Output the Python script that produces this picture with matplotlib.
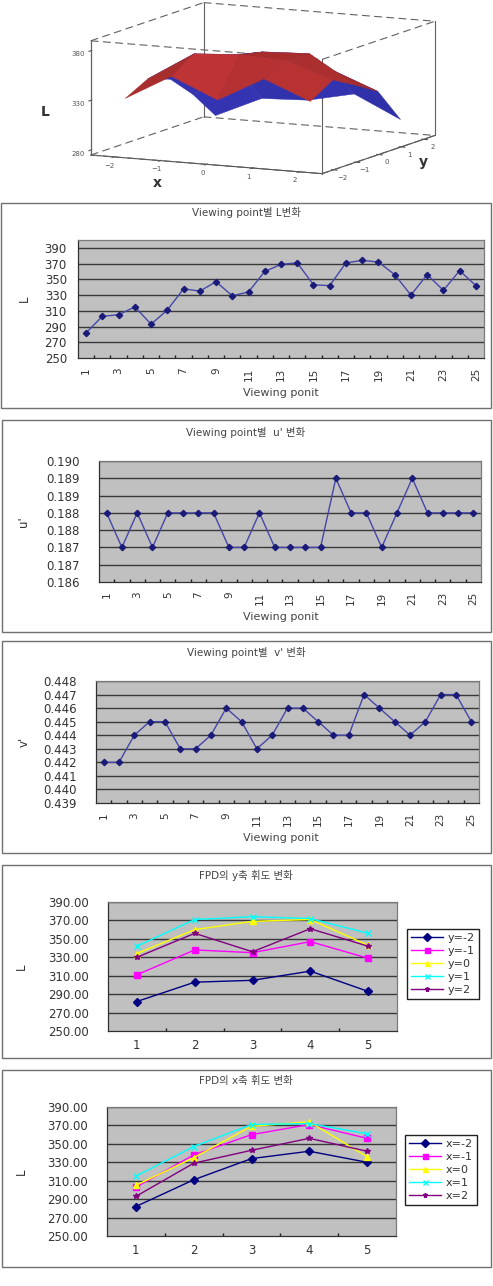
import itertools
import numpy as np
import matplotlib
matplotlib.use('Agg')
import matplotlib.pyplot as plt
from matplotlib.patches import Rectangle
from matplotlib.colors import to_rgba

plt.rcParams['font.family'] = ['DejaVu Sans', 'Noto Sans CJK KR']

# viewing points 1..25, row-major: y=-2..2 rows, x=-2..2 columns
points = np.arange(1, 26)
L_vals = [282, 303, 305, 315, 293,
          311, 338, 335, 347, 329,
          334, 360, 369, 371, 343,
          342, 371, 374, 372, 356,
          330, 356, 336, 361, 342]
u_vals = [0.188, 0.187, 0.188, 0.187, 0.188, 0.188, 0.188, 0.188, 0.187, 0.187,
          0.188, 0.187, 0.187, 0.187, 0.187, 0.189, 0.188, 0.188, 0.187, 0.188,
          0.189, 0.188, 0.188, 0.188, 0.188]
v_vals = [0.442, 0.442, 0.444, 0.445, 0.445, 0.443, 0.443, 0.444, 0.446, 0.445,
          0.443, 0.444, 0.446, 0.446, 0.445, 0.444, 0.444, 0.447, 0.446, 0.445,
          0.444, 0.445, 0.447, 0.447, 0.445]
grid_pos = [-2, -1, 0, 1, 2]
categories = [1, 2, 3, 4, 5]
y_names = ['y=-2', 'y=-1', 'y=0', 'y=1', 'y=2']
x_names = ['x=-2', 'x=-1', 'x=0', 'x=1', 'x=2']

L_ticks = list(range(250, 391, 20))
u_ticks = [0.1860, 0.1865, 0.1870, 0.1875, 0.1880, 0.1885, 0.1890, 0.1895]
u_ticklabels = ['0.186', '0.187', '0.187', '0.188', '0.188', '0.189', '0.189', '0.190']
v_ticks = [0.439, 0.440, 0.441, 0.442, 0.443, 0.444, 0.445, 0.446, 0.447, 0.448]

series_colors = ['#000080', '#FF00FF', '#FFFF00', '#00FFFF', '#800080']
series_markers = ['D', 's', '^', 'x', '*']

W, H = 493, 1286
fig = plt.figure(figsize=(W / 100, H / 100), dpi=100)


def frac(x0, y0, x1, y1):
    return [x0 / W, 1 - y1 / H, (x1 - x0) / W, (y1 - y0) / H]


def chart_frame(x0, y0, x1, y1):
    fig.add_artist(Rectangle((x0 / W, 1 - y1 / H), (x1 - x0) / W, (y1 - y0) / H,
                             transform=fig.transFigure, fill=False,
                             edgecolor='#707070', lw=1.0))


def fig_text(x, y, s, **kw):
    fig.text(x / W, 1 - y / H, s, ha='center', va='center', **kw)


def plot_area(ax, ylim, yticks, ylabels, ypad):
    ax.set_facecolor('#C0C0C0')
    ax.set_ylim(*ylim)
    ax.set_yticks(yticks)
    ax.set_yticklabels(ylabels)
    for t in yticks[1:]:
        ax.axhline(t, color='#383838', lw=1.0, zorder=0.5)
    for s in ax.spines.values():
        s.set_color('#7a7a7a')
        s.set_linewidth(0.9)
    ax.spines['left'].set_color('#303030')
    ax.spines['bottom'].set_color('#303030')
    ax.tick_params(axis='y', length=0, labelsize=8.5, pad=ypad, labelcolor='#333333')


def viewing_chart(box, area, title, title_y, values, ylim, yticks, ylabels,
                  ylab, xlab_y, ypad):
    chart_frame(*box)
    ax = fig.add_axes(frac(*area))
    plot_area(ax, ylim, yticks, ylabels, ypad)
    ax.plot(points, values, color='#4646A8', lw=1.0, marker='D', ms=3.2,
            mfc='#1a1a78', mec='#1a1a78', zorder=3)
    ax.set_xlim(0.5, 25.5)
    ax.set_xticks(points[::2])
    ax.set_xticklabels([str(p) for p in points[::2]], rotation=90)
    ax.set_xticks(np.arange(1.5, 25, 1), minor=True)
    ax.tick_params(axis='x', which='major', length=0, labelsize=7.5, pad=7,
                   labelcolor='#333333')
    ax.tick_params(axis='x', which='minor', direction='in', length=2.5,
                   color='#202020', width=1.0)
    fig_text(246, title_y, title, fontsize=7.5, color='#444444')
    fig_text(281, xlab_y, 'Viewing ponit', fontsize=8, color='#444444')
    fig_text(24, (area[1] + area[3]) / 2, ylab, fontsize=8.5, rotation=90,
             color='#333333')
    return ax


def grid_chart(box, area, title, title_y, series, names, legend_xy):
    chart_frame(*box)
    ax = fig.add_axes(frac(*area))
    plot_area(ax, (250, 390), L_ticks, ['%.2f' % t for t in L_ticks], 14)
    for vals, name, c, m in zip(series, names, series_colors, series_markers):
        ax.plot(categories, vals, color=c, lw=1.0, marker=m, ms=4, mfc=c, mec=c,
                label=name, zorder=3)
    ax.set_xlim(0.5, 5.5)
    ax.set_xticks(categories)
    ax.set_xticks(np.arange(1.5, 5, 1), minor=True)
    ax.tick_params(axis='x', which='major', length=0, labelsize=8.5, pad=6,
                   labelcolor='#333333')
    ax.tick_params(axis='x', which='minor', direction='in', length=2.5,
                   color='#202020', width=1.0)
    fig_text(246, title_y, title, fontsize=7.5, color='#444444')
    fig_text(21, (area[1] + area[3]) / 2, 'L', fontsize=8.5, rotation=90,
             color='#333333')
    leg = ax.legend(loc='upper left', bbox_to_anchor=(legend_xy[0] / W, 1 - legend_xy[1] / H),
                    bbox_transform=fig.transFigure, borderaxespad=0, fontsize=8,
                    fancybox=False, edgecolor='#202020', framealpha=1,
                    handlelength=2.9, handletextpad=0.4, labelspacing=0.28,
                    borderpad=0.35, markerscale=0.9)
    leg.get_frame().set_linewidth(1.0)
    for t in leg.get_texts():
        t.set_color('#333333')
    return ax


# ---- 3D surface ----
Lg = np.array(L_vals).reshape(5, 5)
# in the 3D view point 1 sits at the back-left corner
Ls = Lg[::-1]
Xg, Yg = np.meshgrid(grid_pos, grid_pos)
elev, azim = 9.5, -64
xylim = (-2.5, 2.5)
zlim = (275, 390)
aspect = (1, 1, 0.45)

# 3D axes are always square: make the square big enough to hold the whole box
ax3 = fig.add_axes(frac(78, -87, 438, 273), projection='3d')
ax3.patch.set_visible(False)
ax3.set_proj_type('ortho')
ax3.view_init(elev=elev, azim=azim)
ax3.set_box_aspect(aspect, zoom=1.03)
ax3.set_xlim(*xylim)
ax3.set_ylim(*xylim)
ax3.set_zlim(*zlim)

# two-sided colouring: red when the top side faces the viewer, blue otherwise
e, a = np.radians(elev), np.radians(azim)
view = np.array([np.cos(e) * np.cos(a), np.cos(e) * np.sin(a), np.sin(e)])
span = xylim[1] - xylim[0]
sx, sy, sz = aspect[0] / span, aspect[1] / span, aspect[2] / (zlim[1] - zlim[0])
fc = np.zeros((5, 5, 4))
for i in range(4):
    for j in range(4):
        dzdx = ((Ls[i, j + 1] - Ls[i, j]) + (Ls[i + 1, j + 1] - Ls[i + 1, j])) / 2
        dzdy = ((Ls[i + 1, j] - Ls[i, j]) + (Ls[i + 1, j + 1] - Ls[i, j + 1])) / 2
        n = np.array([-dzdx * sz / sx, -dzdy * sz / sy, 1.0])
        d = n @ view / np.linalg.norm(n)
        base = np.array(to_rgba('#B83232' if d > 0 else '#3434B4'))
        base[:3] *= 0.88 + 0.25 * abs(d)
        fc[i, j] = np.clip(base, 0, 1)

ax3.plot_surface(Xg, Yg, Ls, facecolors=fc, shade=False, linewidth=0.3,
                 rstride=1, cstride=1)

ax3.grid(False)
for axis in (ax3.xaxis, ax3.yaxis, ax3.zaxis):
    axis.set_pane_color((1, 1, 1, 0))
    axis.pane.set_edgecolor((1, 1, 1, 0))
    axis.line.set_color('#505050')
    axis.line.set_linewidth(0.8)
ax3.zaxis.set_ticks_position('lower')

# box edges from the axis limits
lims = [ax3.get_xlim(), ax3.get_ylim(), ax3.get_zlim()]
corners = list(itertools.product(*lims))
for p, q in itertools.combinations(corners, 2):
    diff = [p[k] != q[k] for k in range(3)]
    if sum(diff) == 1:
        ls = '-' if diff[2] else (0, (7, 4))
        ax3.plot(*zip(p, q), color='#606060', lw=0.8, ls=ls)

ax3.set_xticks(grid_pos)
ax3.set_yticks(grid_pos)
ax3.set_zticks([280, 330, 380])
ax3.tick_params(labelsize=5, colors='#555555', pad=-3)
fig_text(45, 112, 'L', fontsize=10, fontweight='bold', color='#333333')
fig_text(157, 183, 'x', fontsize=10, fontweight='bold', color='#333333')
fig_text(423, 162, 'y', fontsize=10, fontweight='bold', color='#333333')

# ---- Viewing point charts ----
viewing_chart((1, 203, 491, 408), (78, 240, 484, 358), 'Viewing point별 L변화', 213,
              L_vals, (250, 400), L_ticks, [str(t) for t in L_ticks], 'L', 393, 8)
viewing_chart((2, 420, 491, 632), (99, 461, 481, 582), "Viewing point별  u' 변화", 433,
              u_vals, (0.1860, 0.1895), u_ticks, u_ticklabels, "u'", 617, 14)
viewing_chart((2, 641, 491, 853), (96, 681, 479, 803), "Viewing point별  v' 변화", 653,
              v_vals, (0.439, 0.448), v_ticks, ['%.3f' % t for t in v_ticks], "v'", 838, 14)

# ---- FPD charts ----
rows = [Lg[i, :] for i in range(5)]
cols = [Lg[:, j] for j in range(5)]
grid_chart((2, 865, 491, 1058), (108, 902, 397, 1031), 'FPD의 y축 휘도 변화', 875,
           rows, y_names, (407, 929))
grid_chart((2, 1070, 491, 1267), (107, 1107, 396, 1236), 'FPD의 x축 휘도 변화', 1081,
           cols, x_names, (405, 1135))

fig.savefig('out.png', dpi=100, facecolor='white')
